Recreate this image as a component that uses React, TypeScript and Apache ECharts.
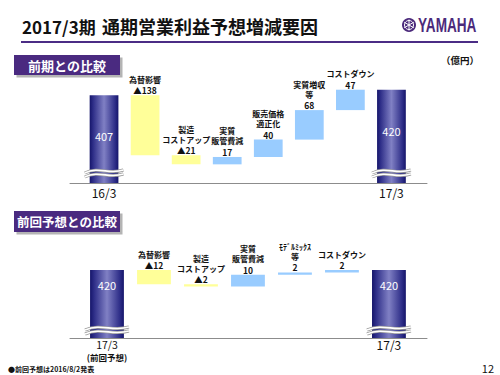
import React, { useEffect, useRef } from 'react';
import * as echarts from 'echarts';

// ---- Texts ----
const titleLead = '2017/3期';
const titleMain = '通期営業利益予想増減要因';
const unitLabel = '（億円）';
const section1Label = '前期との比較';
const section2Label = '前回予想との比較';
const footnote = '●前回予想は2016/8/2発表';
const pageNumber = '12';

// ---- Panel 1: vs previous year ----
const prevCategories = ['16/3', '為替影響', '製造\nコストアップ', '実質\n販管費減', '販売価格\n適正化', '実質増収\n等', 'コストダウン', '17/3'];
const prevStart = 407;
const prevDeltas = [-138, -21, 17, 40, 68, 47];
const prevEnd = 420;

// ---- Panel 2: vs previous forecast ----
const planCategories = ['17/3\n(前回予想)', '為替影響', '製造\nコストアップ', '実質\n販管費減', 'ﾓﾃﾞﾙﾐｯｸｽ\n等', 'コストダウン', '17/3'];
const planStart = 420;
const planDeltas = [-12, -2, 10, 2, 2];
const planEnd = 420;

const FONT = '"Noto Sans CJK JP", "Noto Sans", sans-serif';

function buildItems(start: number, deltas: number[], end: number, axisMin: number) {
  const items: number[][] = [[0, axisMin, start, 0, start]];
  let run = start;
  deltas.forEach((d, k) => {
    const next = run + d;
    items.push([k + 1, Math.min(run, next), Math.max(run, next), d < 0 ? 1 : 2, d]);
    run = next;
  });
  items.push([deltas.length + 1, axisMin, end, 0, end]);
  return items;
}

const totalGradient = () =>
  new echarts.graphic.LinearGradient(0, 0, 1, 0, [
    { offset: 0, color: '#15156a' },
    { offset: 0.12, color: '#2e2e88' },
    { offset: 0.5, color: '#8080c4' },
    { offset: 0.88, color: '#2e2e88' },
    { offset: 1, color: '#15156a' },
  ]);

function makeRender(categories: string[], cfg: { barRatio: number; totalLabelOffset: number; breakOffset: number; catOffset: number }) {
  return (params: any, api: any) => {
    const i = api.value(0);
    const lo = api.value(1);
    const hi = api.value(2);
    const kind = api.value(3);
    const v = api.value(4);
    const bw = api.size([1, 0])[0] * cfg.barRatio;
    const [cx, yHi] = api.coord([i, hi]);
    const x0 = cx - bw / 2;
    const cs = params.coordSys;
    const yBase = cs.y + cs.height;
    const children: any[] = [];
    if (kind === 0) {
      children.push({ type: 'rect', shape: { x: x0, y: yHi, width: bw, height: yBase - yHi }, style: { fill: totalGradient() } });
      children.push({
        type: 'text', x: cx, y: yHi + cfg.totalLabelOffset,
        style: { text: String(v), fill: '#ffffff', font: `11px ${FONT}`, align: 'center', verticalAlign: 'middle' },
      });
      const by = yBase - cfg.breakOffset;
      [-2, 2].forEach((dy) => {
        const shape = {
          x1: x0 - 5, y1: by + dy + 2,
          cpx1: x0 + bw * 0.35, cpy1: by + dy - 5,
          cpx2: x0 + bw * 0.65, cpy2: by + dy + 4,
          x2: x0 + bw + 5, y2: by + dy - 1,
        };
        children.push({ type: 'bezierCurve', shape, style: { stroke: '#9a9a9a', lineWidth: 3, fill: null } });
        children.push({ type: 'bezierCurve', shape, style: { stroke: '#ffffff', lineWidth: 1.6, fill: null } });
      });
      const lines = categories[i].split('\n');
      children.push({
        type: 'text', x: cx, y: yBase + cfg.catOffset,
        style: { text: lines[0], fill: '#111', font: `${lines[1] ? 10.5 : 12}px ${FONT}`, align: 'center', verticalAlign: 'middle' },
      });
      if (lines[1]) {
        children.push({
          type: 'text', x: cx, y: yBase + cfg.catOffset + 13,
          style: { text: lines[1], fill: '#111', font: `bold 8.5px ${FONT}`, align: 'center', verticalAlign: 'middle' },
        });
      }
    } else {
      const yLo = api.coord([i, lo])[1];
      const h = Math.max(yLo - yHi, 1.5);
      children.push({
        type: 'rect', shape: { x: x0, y: yHi, width: bw, height: h },
        style: { fill: kind === 1 ? '#ffff99' : '#99ccff' },
      });
      const valText = kind === 1 ? '▲' + Math.abs(v) : String(v);
      children.push({
        type: 'text', x: cx, y: yHi - 5,
        style: { text: valText, fill: '#111', font: `bold 8.5px ${FONT}`, align: 'center', verticalAlign: 'middle' },
      });
      children.push({
        type: 'text', x: cx, y: yHi - 11,
        style: { text: categories[i], fill: '#111', font: `bold 8px ${FONT}`, align: 'center', verticalAlign: 'bottom', lineHeight: 10 },
      });
    }
    return { type: 'group', children };
  };
}

export default function App() {
  const ref = useRef<HTMLDivElement>(null);
  useEffect(() => {
    if (!ref.current) return;
    const chart = echarts.init(ref.current, null, { renderer: 'svg' });
    const prevMin = 205;
    const planMin = 362;
    const prevItems = buildItems(prevStart, prevDeltas, prevEnd, prevMin);
    const planItems = buildItems(planStart, planDeltas, planEnd, planMin);

    const hiddenX = {
      type: 'value' as const,
      axisLine: { show: true, onZero: false, lineStyle: { color: '#8c8c8c', width: 1 } },
      axisTick: { show: false },
      axisLabel: { show: false },
      splitLine: { show: false },
    };

    chart.setOption({
      animation: false,
      backgroundColor: '#ffffff',
      grid: [
        { left: 70, right: 73, top: 55, height: 128 },
        { left: 70, right: 73, top: 235, height: 103 },
      ],
      xAxis: [
        { ...hiddenX, gridIndex: 0, min: -0.829, max: 7.866 },
        { ...hiddenX, gridIndex: 1, min: -0.787, max: 6.81 },
      ],
      yAxis: [
        { type: 'value', gridIndex: 0, min: prevMin, max: 500, show: false, splitLine: { show: false } },
        { type: 'value', gridIndex: 1, min: planMin, max: 450, show: false, splitLine: { show: false } },
      ],
      series: [
        {
          type: 'custom', xAxisIndex: 0, yAxisIndex: 0, clip: false,
          renderItem: makeRender(prevCategories, { barRatio: 0.7, totalLabelOffset: 41, breakOffset: 10, catOffset: 9 }),
          data: prevItems,
        },
        {
          type: 'custom', xAxisIndex: 1, yAxisIndex: 1, clip: false,
          renderItem: makeRender(planCategories, { barRatio: 0.72, totalLabelOffset: 15, breakOffset: 8, catOffset: 6 }),
          data: planItems,
        },
      ],
      graphic: [
        { type: 'text', x: 22, y: 26, style: { text: titleLead, fill: '#111', font: `bold 17px ${FONT}`, verticalAlign: 'middle' } },
        { type: 'text', x: 102, y: 26, style: { text: titleMain, fill: '#111', font: `bold 18px ${FONT}`, verticalAlign: 'middle' } },
        { type: 'line', shape: { x1: 21, y1: 42, x2: 478, y2: 42 }, style: { stroke: '#4b2c85', lineWidth: 2 } },
        { type: 'circle', shape: { cx: 409, cy: 25, r: 7 }, style: { fill: '#4b2a7b' } },
        { type: 'circle', shape: { cx: 409, cy: 25, r: 4.5 }, style: { fill: null, stroke: '#ffffff', lineWidth: 1 } },
        { type: 'line', shape: { x1: 409, y1: 19.5, x2: 409, y2: 30.5 }, style: { stroke: '#ffffff', lineWidth: 1 } },
        { type: 'line', shape: { x1: 404.2, y1: 22.2, x2: 413.8, y2: 27.8 }, style: { stroke: '#ffffff', lineWidth: 1 } },
        { type: 'line', shape: { x1: 404.2, y1: 27.8, x2: 413.8, y2: 22.2 }, style: { stroke: '#ffffff', lineWidth: 1 } },
        { type: 'text', x: 418, y: 25.5, scaleX: 0.68, style: { text: 'YAMAHA', fill: '#4b2a7b', font: 'bold 20px "Liberation Sans", Arial, sans-serif', verticalAlign: 'middle' } },

        { type: 'rect', shape: { x: 16.5, y: 57.5, width: 106, height: 20 }, style: { fill: '#b4b4b4' } },
        { type: 'rect', shape: { x: 14, y: 55, width: 106, height: 20 }, style: { fill: '#4a2a80' } },
        { type: 'text', x: 67, y: 65, style: { text: section1Label, fill: '#ffffff', font: `bold 13px ${FONT}`, align: 'center', verticalAlign: 'middle' } },

        { type: 'rect', shape: { x: 16.5, y: 213.5, width: 106, height: 21 }, style: { fill: '#b4b4b4' } },
        { type: 'rect', shape: { x: 14, y: 211, width: 106, height: 21 }, style: { fill: '#4a2a80' } },
        { type: 'text', x: 67, y: 221.5, style: { text: section2Label, fill: '#ffffff', font: `bold 12.5px ${FONT}`, align: 'center', verticalAlign: 'middle' } },

        { type: 'text', x: 479, y: 60, style: { text: unitLabel, fill: '#111', font: `bold 9.5px ${FONT}`, align: 'right', verticalAlign: 'middle' } },
        { type: 'text', x: 8, y: 369, style: { text: footnote, fill: '#111', font: `bold 7px ${FONT}`, verticalAlign: 'middle' } },
        { type: 'text', x: 494, y: 368, style: { text: pageNumber, fill: '#111', font: `11px ${FONT}`, align: 'right', verticalAlign: 'middle' } },
      ],
    });
    return () => chart.dispose();
  }, []);
  return <div ref={ref} style={{ position: 'absolute', left: 0, top: 0, width: 500, height: 375, background: '#fff' }} />;
}
